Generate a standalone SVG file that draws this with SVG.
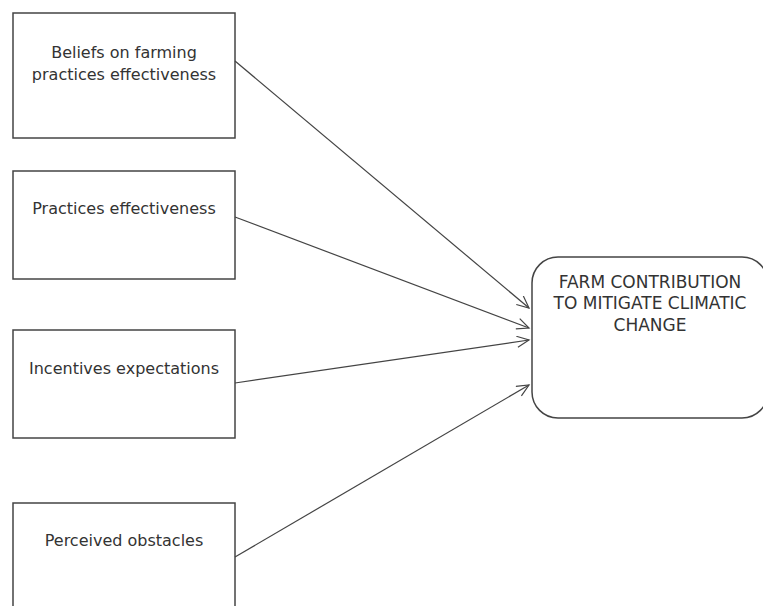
<svg xmlns="http://www.w3.org/2000/svg" width="763" height="606" viewBox="0 0 763 606">
<style>
.box{fill:#fff;stroke:#444;stroke-width:1.5}
.t{font-family:"DejaVu Sans",Verdana,sans-serif;font-size:16px;fill:#333;text-anchor:middle}
.big{font-size:17px}
.c{fill:none;stroke:#444;stroke-width:1.2}
</style>
<defs>
<marker id="arr" markerUnits="userSpaceOnUse" markerWidth="16" markerHeight="14" refX="13" refY="6" orient="auto" viewBox="0 0 16 14">
<path d="M1,0.5 L13,6 L1,11.5" fill="none" stroke="#444" stroke-width="1.2"/>
</marker>
</defs>
<rect width="763" height="606" fill="#fff"/>
<g id="n1"><rect class="box" x="13" y="13" width="222" height="125"/><text class="t" x="124" y="58">Beliefs on farming</text><text class="t" x="124" y="80">practices effectiveness</text></g>
<g id="n2"><rect class="box" x="13" y="171" width="222" height="108"/><text class="t" x="124" y="214">Practices effectiveness</text></g>
<g id="n3"><rect class="box" x="13" y="330" width="222" height="108"/><text class="t" x="124" y="374">Incentives expectations</text></g>
<g id="n4"><rect class="box" x="13" y="503" width="222" height="120"/><text class="t" x="124" y="546">Perceived obstacles</text></g>
<g id="target"><rect class="box" x="532" y="257" width="236" height="161" rx="26" ry="26"/><text class="t big" x="650" y="288">FARM CONTRIBUTION</text><text class="t big" x="650" y="309">TO MITIGATE CLIMATIC</text><text class="t big" x="650" y="331">CHANGE</text></g>
<g id="connectors">
<line class="c" x1="235" y1="61" x2="529" y2="308" marker-end="url(#arr)"/>
<line class="c" x1="235" y1="217" x2="529" y2="328" marker-end="url(#arr)"/>
<line class="c" x1="235" y1="383" x2="529" y2="340" marker-end="url(#arr)"/>
<line class="c" x1="235" y1="557" x2="529" y2="385" marker-end="url(#arr)"/>
</g>
</svg>
